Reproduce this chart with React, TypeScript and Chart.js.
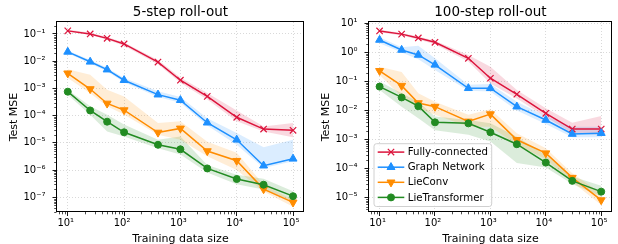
import React, { useEffect, useRef } from "react";
import { Chart, registerables } from "chart.js";
import { drawPoint } from "chart.js/helpers";

Chart.register(...registerables);

const FONT = "'DejaVu Sans', sans-serif";

// ---------- data ----------
const trainingSizes = [10, 25, 50, 100, 400, 1000, 3000, 10000, 30000, 100000];
const modelNames = ["Fully-connected", "Graph Network", "LieConv", "LieTransformer"];
const xTickValues = [1e1, 1e2, 1e3, 1e4, 1e5];
const fiveStepYTicks = [1e-7, 1e-6, 1e-5, 1e-4, 1e-3, 1e-2, 1e-1];
const hundredStepYTicks = [1e-5, 1e-4, 1e-3, 1e-2, 1e-1, 1e0, 1e1];

// 5-step roll-out
const fiveFC = [0.13, 0.1, 0.069, 0.043, 0.0093, 0.002, 5.1e-4, 8.7e-5, 3.2e-5, 2.9e-5];
const fiveFCLow = [0.12, 0.093, 0.062, 0.037, 0.0078, 0.0016, 3.9e-4, 6.2e-5, 2.6e-5, 1.6e-5];
const fiveFCHigh = [0.145, 0.11, 0.078, 0.049, 0.011, 0.0025, 6.8e-4, 1.55e-4, 4e-5, 5.4e-5];
const fiveGN = [0.022, 0.0095, 0.0049, 0.002, 5.9e-4, 3.7e-4, 5.5e-5, 1.3e-5, 1.45e-6, 2.6e-6];
const fiveGNLow = [0.0195, 0.0083, 0.0042, 0.0017, 4.8e-4, 3e-4, 4.3e-5, 8.5e-6, 1.2e-6, 2.1e-6];
const fiveGNHigh = [0.0245, 0.011, 0.0058, 0.0024, 7.8e-4, 4.8e-4, 8.1e-5, 2.3e-5, 6.9e-6, 1.3e-5];
const fiveLC = [0.0036, 9.5e-4, 2.8e-4, 1.6e-4, 2.4e-5, 3.4e-5, 5e-6, 2.2e-6, 2e-7, 6.5e-8];
const fiveLCLow = [2.4e-3, 6.7e-4, 2.2e-4, 1.1e-4, 2e-5, 1.3e-5, 3.2e-6, 1e-6, 1.65e-7, 4.5e-8];
const fiveLCHigh = [5.1e-3, 3.2e-3, 8.9e-4, 5e-4, 5.4e-5, 6.2e-5, 1.1e-5, 4.3e-6, 2.9e-7, 8e-8];
const fiveLT = [7.6e-4, 1.55e-4, 6e-5, 2.45e-5, 8.5e-6, 5.8e-6, 1.15e-6, 4.7e-7, 2.9e-7, 1.1e-7];
const fiveLTLow = [5.9e-4, 1.07e-4, 2.6e-5, 1.7e-5, 6.4e-6, 3.7e-6, 8.1e-7, 3e-7, 1.95e-7, 7.2e-8];
const fiveLTHigh = [8.9e-4, 2.2e-4, 1.07e-4, 4.7e-5, 1.3e-5, 1.7e-5, 1.55e-6, 6.8e-7, 4.8e-7, 1.66e-7];

// 100-step roll-out
const hundredFC = [5.4, 4.2, 3.1, 2.2, 0.62, 0.128, 0.036, 0.008, 0.0023, 0.0023];
const hundredFCLow = [4.9, 3.8, 2.75, 1.9, 0.48, 0.085, 0.026, 0.0059, 0.00166, 0.00145];
const hundredFCHigh = [5.9, 4.6, 3.5, 2.5, 0.81, 0.32, 0.05, 0.012, 0.0038, 0.0065];
const hundredGN = [2.65, 1.2, 0.81, 0.37, 0.058, 0.058, 0.0135, 0.0047, 0.00155, 0.00166];
const hundredGNLow = [2.05, 0.98, 0.58, 0.245, 0.048, 0.045, 0.01, 0.0034, 0.0012, 0.0012];
const hundredGNHigh = [3.3, 1.48, 1.66, 0.62, 0.076, 0.081, 0.02, 0.0065, 0.00275, 0.00275];
const hundredLC = [0.23, 0.071, 0.018, 0.0135, 0.0042, 0.0075, 9.8e-4, 3.4e-4, 4.9e-5, 8.3e-6];
const hundredLCLow = [0.166, 0.03, 0.012, 0.0071, 0.00275, 0.00275, 6.5e-4, 2.1e-4, 3.5e-5, 5.6e-6];
const hundredLCHigh = [0.32, 0.21, 0.039, 0.02, 0.0071, 0.011, 0.00166, 5e-4, 6.9e-5, 1.4e-5];
const hundredLT = [0.066, 0.028, 0.014, 0.0039, 0.0036, 0.00178, 6.9e-4, 1.62e-4, 3.8e-5, 1.62e-5];
const hundredLTLow = [0.05, 0.0135, 0.0054, 0.0021, 0.00145, 8.5e-4, 1.55e-4, 1.1e-4, 2.95e-5, 1.1e-5];
const hundredLTHigh = [0.098, 0.039, 0.02, 0.0062, 0.0047, 0.0036, 0.00126, 2.95e-4, 5.4e-5, 2.6e-5];

// ---------- styles ----------
const lineColors = ["#dc143c", "#1e90ff", "#ff8c00", "#228b22"];
const bandColors = [
  "rgba(220,20,60,0.16)",
  "rgba(30,144,255,0.16)",
  "rgba(255,140,0,0.16)",
  "rgba(34,139,34,0.16)",
];
const markerStyles = [
  { pointStyle: "crossRot", rotation: 0, radius: 4.5, borderWidth: 1.2 },
  { pointStyle: "triangle", rotation: 0, radius: 4.6, borderWidth: 1 },
  { pointStyle: "triangle", rotation: 180, radius: 4.6, borderWidth: 1 },
  { pointStyle: "circle", rotation: 0, radius: 3.5, borderWidth: 1 },
];

const SUP: Record<string, string> = {
  "0": "\u2070", "1": "\u00b9", "2": "\u00b2", "3": "\u00b3", "4": "\u2074",
  "5": "\u2075", "6": "\u2076", "7": "\u2077", "8": "\u2078", "9": "\u2079", "-": "\u207b",
};
function powLabel(v: number): string {
  const e = Math.round(Math.log10(v));
  return "10" + String(e).split("").map((c) => SUP[c]).join("");
}

const minorTicksAndFrame = {
  id: "minorTicksAndFrame",
  afterDatasetsDraw(chart: any) {
    const { ctx, chartArea: ca, scales } = chart;
    const xs = scales.x;
    const ys = scales.y;
    ctx.save();
    ctx.strokeStyle = "#000";
    ctx.lineWidth = 0.7;
    ctx.beginPath();
    for (let k = -9; k <= 6; k++) {
      for (let m = 2; m <= 9; m++) {
        const v = m * Math.pow(10, k);
        if (v > xs.min && v < xs.max) {
          const px = Math.round(xs.getPixelForValue(v)) + 0.5;
          ctx.moveTo(px, ca.bottom);
          ctx.lineTo(px, ca.bottom + 2.3);
        }
        if (v > ys.min && v < ys.max) {
          const py = Math.round(ys.getPixelForValue(v)) + 0.5;
          ctx.moveTo(ca.left - 2.3, py);
          ctx.lineTo(ca.left, py);
        }
      }
    }
    ctx.stroke();
    ctx.lineWidth = 1;
    ctx.strokeStyle = "#000";
    const l = Math.round(ca.left) - 0.5;
    const t = Math.round(ca.top) - 0.5;
    const r = Math.round(ca.right) - 0.5;
    const b = Math.round(ca.bottom) - 0.5;
    ctx.strokeRect(l, t, r - l, b - t);
    ctx.restore();
  },
};

const boxLegend = {
  id: "boxLegend",
  afterDatasetsDraw(chart: any, _args: any, opts: any) {
    if (!opts || !opts.show) return;
    const { ctx, chartArea: ca } = chart;
    const bx = ca.left + 5.5;
    const bw = 117.7;
    const bh = 62.8;
    const by = ca.bottom - 5.5 - bh;
    ctx.save();
    ctx.beginPath();
    const rr = 2.5;
    ctx.moveTo(bx + rr, by);
    ctx.lineTo(bx + bw - rr, by);
    ctx.quadraticCurveTo(bx + bw, by, bx + bw, by + rr);
    ctx.lineTo(bx + bw, by + bh - rr);
    ctx.quadraticCurveTo(bx + bw, by + bh, bx + bw - rr, by + bh);
    ctx.lineTo(bx + rr, by + bh);
    ctx.quadraticCurveTo(bx, by + bh, bx, by + bh - rr);
    ctx.lineTo(bx, by + rr);
    ctx.quadraticCurveTo(bx, by, bx + rr, by);
    ctx.closePath();
    ctx.fillStyle = "rgba(255,255,255,0.8)";
    ctx.fill();
    ctx.strokeStyle = "#d0d0d0";
    ctx.lineWidth = 1;
    ctx.stroke();
    const lines = chart.data.datasets.filter((d: any) => d.isMain);
    lines.forEach((d: any, i: number) => {
      const y = by + 8.4 + i * 15.1;
      const x0 = bx + 3.7;
      const x1 = bx + 30.3;
      ctx.strokeStyle = d.borderColor;
      ctx.lineWidth = d.borderWidth;
      ctx.beginPath();
      ctx.moveTo(x0, y);
      ctx.lineTo(x1, y);
      ctx.stroke();
      ctx.fillStyle = d.pointBackgroundColor;
      ctx.strokeStyle = d.pointBorderColor;
      ctx.lineWidth = d.pointBorderWidth;
      drawPoint(ctx, {
        pointStyle: d.pointStyle,
        rotation: d.pointRotation,
        radius: d.pointRadius,
        borderWidth: d.pointBorderWidth,
      } as any, (x0 + x1) / 2, y);
      ctx.fillStyle = "#000";
      ctx.font = `10.2px ${FONT}`;
      ctx.textAlign = "left";
      ctx.textBaseline = "middle";
      ctx.fillText(d.label, bx + 33.7, y + 0.5);
    });
    ctx.restore();
  },
};

type PanelSpec = {
  title: string;
  means: number[][];
  lows: number[][];
  highs: number[][];
  yMin: number;
  yMax: number;
  yTicks: number[];
  yAxisWidth: number;
  yTitlePad: number;
  rightPad: number;
  legend: boolean;
};

function buildConfig(p: PanelSpec): any {
  const datasets: any[] = [];
  for (let i = 0; i < modelNames.length; i++) {
    datasets.push({
      label: modelNames[i] + " low",
      data: trainingSizes.map((x, j) => ({ x, y: p.lows[i][j] })),
      borderWidth: 0,
      borderColor: "rgba(0,0,0,0)",
      pointRadius: 0,
      fill: false,
      order: 20 + i,
    });
    datasets.push({
      label: modelNames[i] + " high",
      data: trainingSizes.map((x, j) => ({ x, y: p.highs[i][j] })),
      borderWidth: 0,
      borderColor: "rgba(0,0,0,0)",
      backgroundColor: bandColors[i],
      pointRadius: 0,
      fill: "-1",
      order: 20 + i,
    });
  }
  for (let i = 0; i < modelNames.length; i++) {
    const m = markerStyles[i];
    datasets.push({
      label: modelNames[i],
      isMain: true,
      data: trainingSizes.map((x, j) => ({ x, y: p.means[i][j] })),
      borderColor: lineColors[i],
      backgroundColor: lineColors[i],
      borderWidth: 1.5,
      pointStyle: m.pointStyle,
      pointRotation: m.rotation,
      pointRadius: m.radius,
      pointBorderWidth: m.borderWidth,
      pointBackgroundColor: lineColors[i],
      pointBorderColor: lineColors[i],
      fill: false,
      tension: 0,
      order: 4 - i,
    });
  }
  return {
    type: "line",
    data: { datasets },
    plugins: [minorTicksAndFrame, boxLegend],
    options: {
      animation: false,
      responsive: false,
      events: [],
      layout: { padding: { left: 0, right: p.rightPad, top: 0, bottom: 0 } },
      plugins: {
        legend: { display: false },
        tooltip: { enabled: false },
        title: {
          display: true,
          text: p.title,
          fullSize: false,
          color: "#000",
          font: { family: FONT, size: 13.5, weight: "normal" },
          padding: { top: 3.9, bottom: 1.9 },
        },
        boxLegend: { show: p.legend },
      },
      scales: {
        x: {
          type: "logarithmic",
          min: Math.pow(10, 0.8),
          max: Math.pow(10, 5.2),
          afterBuildTicks: (s: any) => {
            s.ticks = xTickValues.map((v) => ({ value: v }));
          },
          afterFit: (s: any) => {
            s.height = 32;
            s.paddingLeft = 0;
            s.paddingRight = 0;
          },
          ticks: {
            autoSkip: false,
            maxRotation: 0,
            minRotation: 0,
            padding: 1.2,
            labelOffset: -2,
            color: "#000",
            font: { family: FONT, size: 10 },
            callback: (v: any) => powLabel(Number(v)),
          },
          grid: {
            color: "#cfcfcf",
            lineWidth: 0.8,
            tickLength: 4,
            tickColor: "#000",
            tickWidth: 0.9,
            tickBorderDash: [],
          },
          border: { display: false, dash: [1, 2] },
          title: {
            display: true,
            text: "Training data size",
            color: "#000",
            font: { family: FONT, size: 11 },
            padding: { top: 0, bottom: -2 },
          },
        },
        y: {
          type: "logarithmic",
          min: p.yMin,
          max: p.yMax,
          afterBuildTicks: (s: any) => {
            s.ticks = p.yTicks.map((v) => ({ value: v }));
          },
          afterFit: (s: any) => {
            s.width = p.yAxisWidth;
            s.paddingTop = 0;
            s.paddingBottom = 0;
          },
          ticks: {
            autoSkip: false,
            padding: 7,
            color: "#000",
            font: { family: FONT, size: 10 },
            callback: (v: any) => powLabel(Number(v)),
          },
          grid: {
            color: "#cfcfcf",
            lineWidth: 0.8,
            tickLength: 4,
            tickColor: "#000",
            tickWidth: 0.9,
            tickBorderDash: [],
          },
          border: { display: false, dash: [1, 2] },
          title: {
            display: true,
            text: "Test MSE",
            color: "#000",
            font: { family: FONT, size: 11 },
            padding: { top: p.yTitlePad, bottom: 0 },
          },
        },
      },
    },
  };
}

function Panel({ spec, width, height }: { spec: PanelSpec; width: number; height: number }) {
  const ref = useRef<HTMLCanvasElement | null>(null);
  useEffect(() => {
    if (!ref.current) return;
    const chart = new Chart(ref.current, buildConfig(spec));
    return () => chart.destroy();
  }, [spec]);
  return <canvas ref={ref} width={width} height={height} style={{ display: "block", width, height }} />;
}

const leftSpec: PanelSpec = {
  title: "5-step roll-out",
  means: [fiveFC, fiveGN, fiveLC, fiveLT],
  lows: [fiveFCLow, fiveGNLow, fiveLCLow, fiveLTLow],
  highs: [fiveFCHigh, fiveGNHigh, fiveLCHigh, fiveLTHigh],
  yMin: Math.pow(10, -7.54),
  yMax: Math.pow(10, -0.56),
  yTicks: fiveStepYTicks,
  yAxisWidth: 56.5,
  yTitlePad: 7.6,
  rightPad: 4,
  legend: false,
};

const rightSpec: PanelSpec = {
  title: "100-step roll-out",
  means: [hundredFC, hundredGN, hundredLC, hundredLT],
  lows: [hundredFCLow, hundredGNLow, hundredLCLow, hundredLTLow],
  highs: [hundredFCHigh, hundredGNHigh, hundredLCHigh, hundredLTHigh],
  yMin: Math.pow(10, -5.49),
  yMax: Math.pow(10, 1.04),
  yTicks: hundredStepYTicks,
  yAxisWidth: 58.5,
  yTitlePad: 9.2,
  rightPad: 1,
  legend: true,
};

export default function App() {
  return (
    <div style={{ position: "absolute", left: 0, top: 0, width: 618, height: 244, background: "#fff", overflow: "hidden" }}>
      <div style={{ position: "absolute", left: 0, top: 0 }}>
        <Panel spec={leftSpec} width={310} height={244} />
      </div>
      <div style={{ position: "absolute", left: 310, top: 0 }}>
        <Panel spec={rightSpec} width={308} height={244} />
      </div>
    </div>
  );
}
